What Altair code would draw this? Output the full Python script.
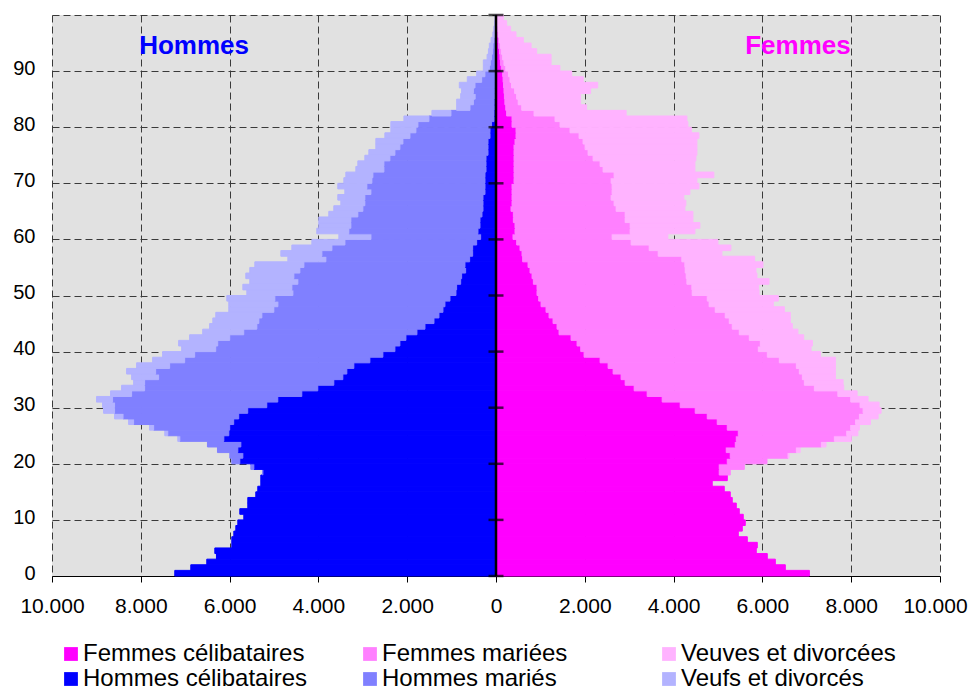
import altair as alt
import pandas as pd

ages = list(range(100))

# Hommes : bords (effectifs cumulés depuis l'axe central)
hommes_celibataires = [
    7235, 6874, 6514, 6296, 6333, 5950, 5950, 5905, 5860, 5815,
    5680, 5770, 5590, 5590, 5410, 5365, 5297, 5297, 5250, 5454,
    5770, 5702, 5815, 5747, 6130, 6018, 5998, 5908, 5795, 5592,
    5163, 4915, 4374, 4014, 3653, 3450, 3360, 3202, 2841, 2548,
    2277, 2165, 2029, 1781, 1600, 1397, 1285, 1195, 1150, 1037,
    902, 887, 796, 774, 684, 699, 594, 526, 526, 436,
    346, 406, 361, 361, 316, 293, 293, 293, 248, 248,
    248, 248, 225, 225, 225, 180, 180, 180, 135, 135,
    100, 45, 45, 40, 40, 35, 30, 30, 25, 20,
    15, 15, 10, 10, 8, 5, 5, 3, 2, 2]
hommes_jusqu_maries = [
    7235, 6874, 6514, 6296, 6333, 5950, 5950, 5905, 5860, 5815,
    5680, 5770, 5590, 5590, 5410, 5365, 5297, 5297, 5260, 5522,
    5950, 5995, 6273, 6499, 7122, 7393, 7711, 8162, 8400, 8591,
    8591, 8636, 8207, 7914, 7914, 7599, 7666, 7351, 7012, 6787,
    6313, 6268, 5998, 5682, 5387, 5342, 5274, 5004, 4913, 4981,
    4575, 4598, 4463, 4553, 4418, 4327, 3832, 3922, 3696, 3403,
    2817, 3315, 3269, 3269, 3112, 2999, 2954, 2954, 2818, 2909,
    2796, 2773, 2525, 2525, 2390, 2277, 2165, 2097, 1939, 1804,
    1759, 1511, 1015, 586, 510, 470, 510, 473, 323, 250,
    150, 130, 100, 80, 70, 50, 30, 20, 10, 8]
hommes_total = [
    7235, 6874, 6514, 6296, 6333, 5950, 5950, 5905, 5860, 5815,
    5680, 5770, 5590, 5590, 5410, 5365, 5297, 5297, 5260, 5522,
    5950, 5995, 6273, 6499, 7167, 7460, 7801, 8275, 8591, 8839,
    8862, 8997, 8681, 8433, 8162, 8207, 8320, 8095, 7734, 7509,
    7080, 7148, 6900, 6606, 6450, 6378, 6311, 6018, 6018, 6063,
    5612, 5702, 5545, 5635, 5545, 5432, 4688, 4846, 4598, 4147,
    3539, 4036, 3991, 3991, 3766, 3653, 3495, 3563, 3405, 3563,
    3427, 3382, 3157, 3112, 2954, 2864, 2706, 2706, 2503, 2368,
    2368, 2074, 1443, 886, 886, 796, 774, 826, 646, 435,
    285, 285, 200, 170, 150, 110, 70, 50, 30, 20]

# Femmes
femmes_celibataires = [
    7058, 6516, 6291, 6110, 5862, 5885, 5660, 5457, 5547, 5614,
    5569, 5479, 5412, 5321, 5276, 5141, 4870, 5209, 5028, 5028,
    5209, 5276, 5186, 5389, 5412, 5457, 5209, 4983, 4758, 4487,
    4149, 3743, 3405, 3112, 2909, 2818, 2638, 2525, 2345, 1984,
    1909, 1826, 1691, 1420, 1375, 1285, 1195, 1127, 1015, 962,
    924, 924, 842, 812, 767, 722, 601, 586, 541, 466,
    383, 428, 428, 391, 391, 338, 361, 361, 361, 361,
    406, 406, 406, 406, 406, 406, 406, 428, 451, 451,
    361, 361, 240, 220, 200, 190, 180, 170, 160, 150,
    120, 100, 90, 80, 60, 50, 40, 30, 20, 15]
femmes_jusqu_mariees = [
    7058, 6516, 6291, 6110, 5862, 5885, 5660, 5457, 5547, 5614,
    5569, 5479, 5412, 5321, 5276, 5141, 4870, 5209, 5276, 5592,
    6103, 6577, 6765, 7328, 7621, 7900, 7990, 8100, 8185, 8268,
    8200, 7990, 7700, 7170, 6945, 6900, 6832, 6765, 6381, 6111,
    5908, 5953, 5705, 5479, 5321, 5254, 5163, 4938, 4800, 4758,
    4419, 4412, 4300, 4284, 4262, 4254, 4186, 3653, 3450, 3044,
    2616, 3021, 3022, 2909, 2909, 2706, 2660, 2593, 2615, 2615,
    2593, 2660, 2412, 2345, 2187, 2074, 2007, 1961, 1871, 1668,
    1443, 1330, 857, 580, 500, 465, 420, 350, 315, 280,
    220, 180, 150, 120, 100, 80, 60, 45, 30, 20]
femmes_total = [
    7058, 6516, 6291, 6110, 5862, 5885, 5660, 5457, 5547, 5614,
    5569, 5479, 5412, 5321, 5276, 5141, 4870, 5209, 5276, 5592,
    6103, 6600, 6850, 7433, 8004, 8150, 8185, 8433, 8606, 8673,
    8628, 8380, 8133, 7832, 7817, 7644, 7644, 7644, 7644, 7306,
    7096, 7126, 6930, 6800, 6674, 6629, 6629, 6494, 6246, 6358,
    5925, 5915, 6148, 5877, 5855, 6013, 5825, 5088, 5290, 4998,
    3871, 4480, 4592, 4435, 4435, 4254, 4276, 4231, 4367, 4570,
    4525, 4907, 4480, 4480, 4502, 4525, 4525, 4525, 4570, 4400,
    4322, 4299, 2931, 2040, 1905, 1905, 2130, 2290, 1965, 1705,
    1440, 1240, 1240, 915, 790, 615, 450, 330, 240, 165]

series = ["Femmes célibataires", "Femmes mariées", "Veuves et divorcées",
          "Hommes célibataires", "Hommes mariés", "Veufs et divorcés"]
couleurs = ["#FF00FF", "#FF80FF", "#FFB3FF", "#0000FF", "#8080FF", "#B3B3FF"]

rows = []
for i, a in enumerate(ages):
    hb, hm, ht = hommes_celibataires[i], hommes_jusqu_maries[i], hommes_total[i]
    fb, fm, ft = femmes_celibataires[i], femmes_jusqu_mariees[i], femmes_total[i]
    rows += [
        dict(age=a, serie=series[3], x0=0, x1=-hb),
        dict(age=a, serie=series[4], x0=-hb, x1=-hm),
        dict(age=a, serie=series[5], x0=-hm, x1=-ht),
        dict(age=a, serie=series[0], x0=0, x1=fb),
        dict(age=a, serie=series[1], x0=fb, x1=fm),
        dict(age=a, serie=series[2], x0=fm, x1=ft),
    ]
df = pd.DataFrame(rows)
df = df[df.x0 != df.x1]

FONT = "Liberation Sans"
GRID_DASH = [7, 4]

x_axis = alt.Axis(
    values=list(range(-10000, 10001, 2000)),
    labelExpr="replace(format(abs(datum.value), ','), ',', '.')",
    title=None, grid=True, gridDash=GRID_DASH, gridColor="#3a3a3a", gridWidth=1,
    domainColor="black", domainWidth=1, tickColor="black", tickSize=6, tickWidth=1,
    labelFont=FONT, labelFontSize=21, labelColor="black", labelPadding=13,
    labelFlush=False, labelOverlap=False,
    labelOffset={"condition": {"test": "datum.value == 10000", "value": -5}, "value": 0},
)
y_axis = alt.Axis(
    values=list(range(0, 101, 10)),
    labelExpr="datum.value == 100 ? '' : datum.label",
    title=None, grid=True, gridDash=GRID_DASH, gridColor="#3a3a3a", gridWidth=1,
    ticks=False, domain=False, labelOffset=-2.8, labelPadding=17,
    labelFont=FONT, labelFontSize=20, labelColor="black",
)

bars = alt.Chart(df).mark_bar(strokeWidth=1).encode(
    x=alt.X("x0:Q", scale=alt.Scale(domain=[-10000, 10000], nice=False, zero=False), axis=x_axis),
    x2="x1:Q",
    y=alt.Y("age:Q", scale=alt.Scale(domain=[0, 100], nice=False, zero=False), axis=y_axis),
    y2="age_top:Q",
    color=alt.Color("serie:N", scale=alt.Scale(domain=series, range=couleurs),
                    legend=alt.Legend(
                        orient="none", legendX=7, legendY=627, direction="horizontal",
                        columns=3, columnPadding=50, rowPadding=1, gridAlign="all",
                        title=None, labelLimit=0,
                        symbolType="square", symbolSize=190, symbolStrokeWidth=0,
                        labelFont=FONT, labelFontSize=24, labelColor="black",
                        labelOffset=0, padding=0)),
    stroke=alt.Stroke("serie:N", scale=alt.Scale(domain=series, range=couleurs), legend=None),
).transform_calculate(age_top="datum.age + 1")

axe_central = alt.Chart(pd.DataFrame({"x": [0]})).mark_rule(
    color="black", strokeWidth=2.5
).encode(x=alt.X("x:Q", title=None))

graduations = alt.Chart(pd.DataFrame({"age": list(range(0, 101, 10))})).mark_tick(
    orient="horizontal", size=15, thickness=2.5, color="black"
).encode(x=alt.datum(0), y=alt.Y("age:Q", title=None))

titres = alt.Chart(pd.DataFrame({
    "texte": ["Hommes", "Femmes"],
    "x": [-6800, 6800],
    "y": [94.4, 94.4],
    "c": ["#0000FF", "#FF00FF"],
})).mark_text(font=FONT, fontSize=26, fontWeight="bold", baseline="middle").encode(
    x=alt.X("x:Q", title=None), y=alt.Y("y:Q", title=None), text="texte:N",
    color=alt.Color("c:N", scale=None),
)

chart = alt.layer(bars, axe_central, graduations, titres).properties(
    width=888, height=561, autosize="none",
    padding={"left": 44, "top": 7, "right": 28, "bottom": 117},
    background="white",
).configure_view(fill="#E1E1E1", stroke=None)

chart.save("out.html", embed_options={"renderer": "svg", "actions": False})
